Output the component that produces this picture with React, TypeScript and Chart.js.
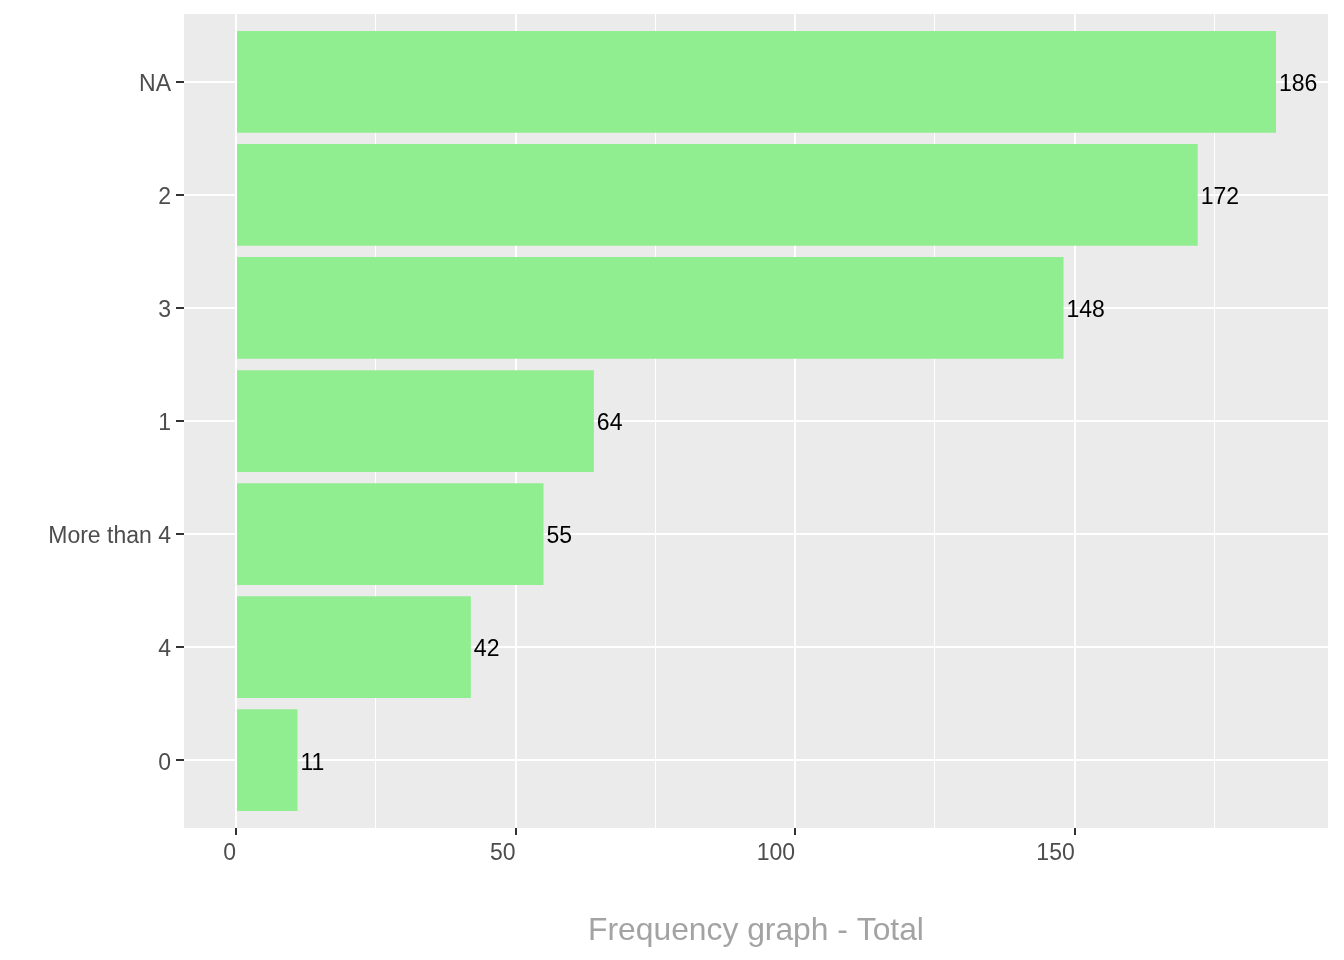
import React, { useEffect, useRef } from "react";
import { Chart, registerables } from "chart.js";

Chart.register(...registerables);

const categories = ["NA", "2", "3", "1", "More than 4", "4", "0"];
const counts = [186, 172, 148, 64, 55, 42, 11];
const xMajorTicks = [0, 50, 100, 150];
const xAllTicks = [0, 25, 50, 75, 100, 125, 150, 175];
const axisTitle = "Frequency graph - Total";

const FONT = "'Liberation Sans', Arial, sans-serif";

export default function App() {
  const ref = useRef<HTMLCanvasElement | null>(null);

  useEffect(() => {
    document.body.style.margin = "0";
    const canvas = ref.current;
    if (!canvas) return;

    const maxVal = Math.max(...counts);
    const xMin = -0.05 * maxVal;
    const xMax = maxVal * 1.05;

    const panelBg = {
      id: "panelBg",
      beforeDraw(chart: any) {
        const { ctx, chartArea } = chart;
        ctx.save();
        ctx.fillStyle = "#EBEBEB";
        ctx.fillRect(chartArea.left, chartArea.top, chartArea.right - chartArea.left, chartArea.bottom - chartArea.top);
        ctx.restore();
      },
    };

    const valueLabels = {
      id: "valueLabels",
      afterDatasetsDraw(chart: any) {
        const { ctx } = chart;
        const meta = chart.getDatasetMeta(0);
        ctx.save();
        ctx.fillStyle = "#000000";
        ctx.font = `23px ${FONT}`;
        ctx.textAlign = "left";
        ctx.textBaseline = "middle";
        meta.data.forEach((bar: any, i: number) => {
          ctx.fillText(String(counts[i]), bar.x + 3, bar.y + 3);
        });
        ctx.restore();
      },
    };

    const chart = new Chart(canvas, {
      type: "bar",
      data: {
        datasets: [
          {
            data: counts.map((c, i) => ({ x: c, y: i })),
            backgroundColor: "#90EE90",
            borderWidth: 0,
            barPercentage: 0.9,
            categoryPercentage: 1,
          },
        ],
      },
      options: {
        indexAxis: "y",
        animation: false,
        responsive: false,
        maintainAspectRatio: false,
        layout: { padding: { left: 0, right: 16, top: 14, bottom: 0 } },
        plugins: {
          legend: { display: false },
          tooltip: { enabled: false },
        },
        scales: {
          x: {
            type: "linear",
            min: xMin,
            max: xMax,
            offset: false,
            afterBuildTicks(scale: any) {
              scale.ticks = xAllTicks.map((v) => ({ value: v }));
            },
            afterFit(scale: any) {
              scale.height = 132;
              scale.paddingLeft = 0;
              scale.paddingRight = 0;
              scale.paddingTop = 0;
              scale.paddingBottom = 0;
            },
            border: { display: false },
            grid: {
              offset: false,
              color: "#FFFFFF",
              lineWidth: (c: any) => (xMajorTicks.includes(c.tick?.value) ? 2 : 1),
              drawTicks: true,
              tickLength: 7,
              tickWidth: 2,
              tickColor: (c: any) => (xMajorTicks.includes(c.tick?.value) ? "#333333" : "rgba(0,0,0,0)"),
            },
            ticks: {
              autoSkip: false,
              maxRotation: 0,
              align: "end",
              padding: 5,
              color: "#4D4D4D",
              font: { family: FONT, size: 23 },
              callback: (v: any) => (xMajorTicks.includes(Number(v)) ? String(v) : ""),
            },
            title: {
              display: true,
              text: axisTitle,
              color: "#A3A3A3",
              font: { family: FONT, size: 31.8 },
              padding: { top: 0, bottom: 10 },
            },
          },
          y: {
            type: "linear",
            min: -0.6,
            max: categories.length - 1 + 0.6,
            reverse: true,
            offset: false,
            afterBuildTicks(scale: any) {
              scale.ticks = categories.map((_, i) => ({ value: i }));
            },
            afterFit(scale: any) {
              scale.width = 184;
              scale.paddingLeft = 0;
              scale.paddingRight = 0;
              scale.paddingTop = 0;
              scale.paddingBottom = 0;
            },
            border: { display: false },
            grid: {
              offset: false,
              color: "#FFFFFF",
              lineWidth: 2,
              drawTicks: true,
              tickLength: 8,
              tickWidth: 2,
              tickColor: "#333333",
            },
            ticks: {
              autoSkip: false,
              padding: 5,
              labelOffset: 3,
              color: "#4D4D4D",
              font: { family: FONT, size: 23 },
              callback: (v: any) => categories[Number(v)] ?? "",
            },
          },
        },
      },
      plugins: [panelBg, valueLabels],
    } as any);

    return () => chart.destroy();
  }, []);

  return (
    <div style={{ width: 1344, height: 960, background: "#FFFFFF" }}>
      <canvas ref={ref} width={1344} height={960} style={{ display: "block" }} />
    </div>
  );
}
